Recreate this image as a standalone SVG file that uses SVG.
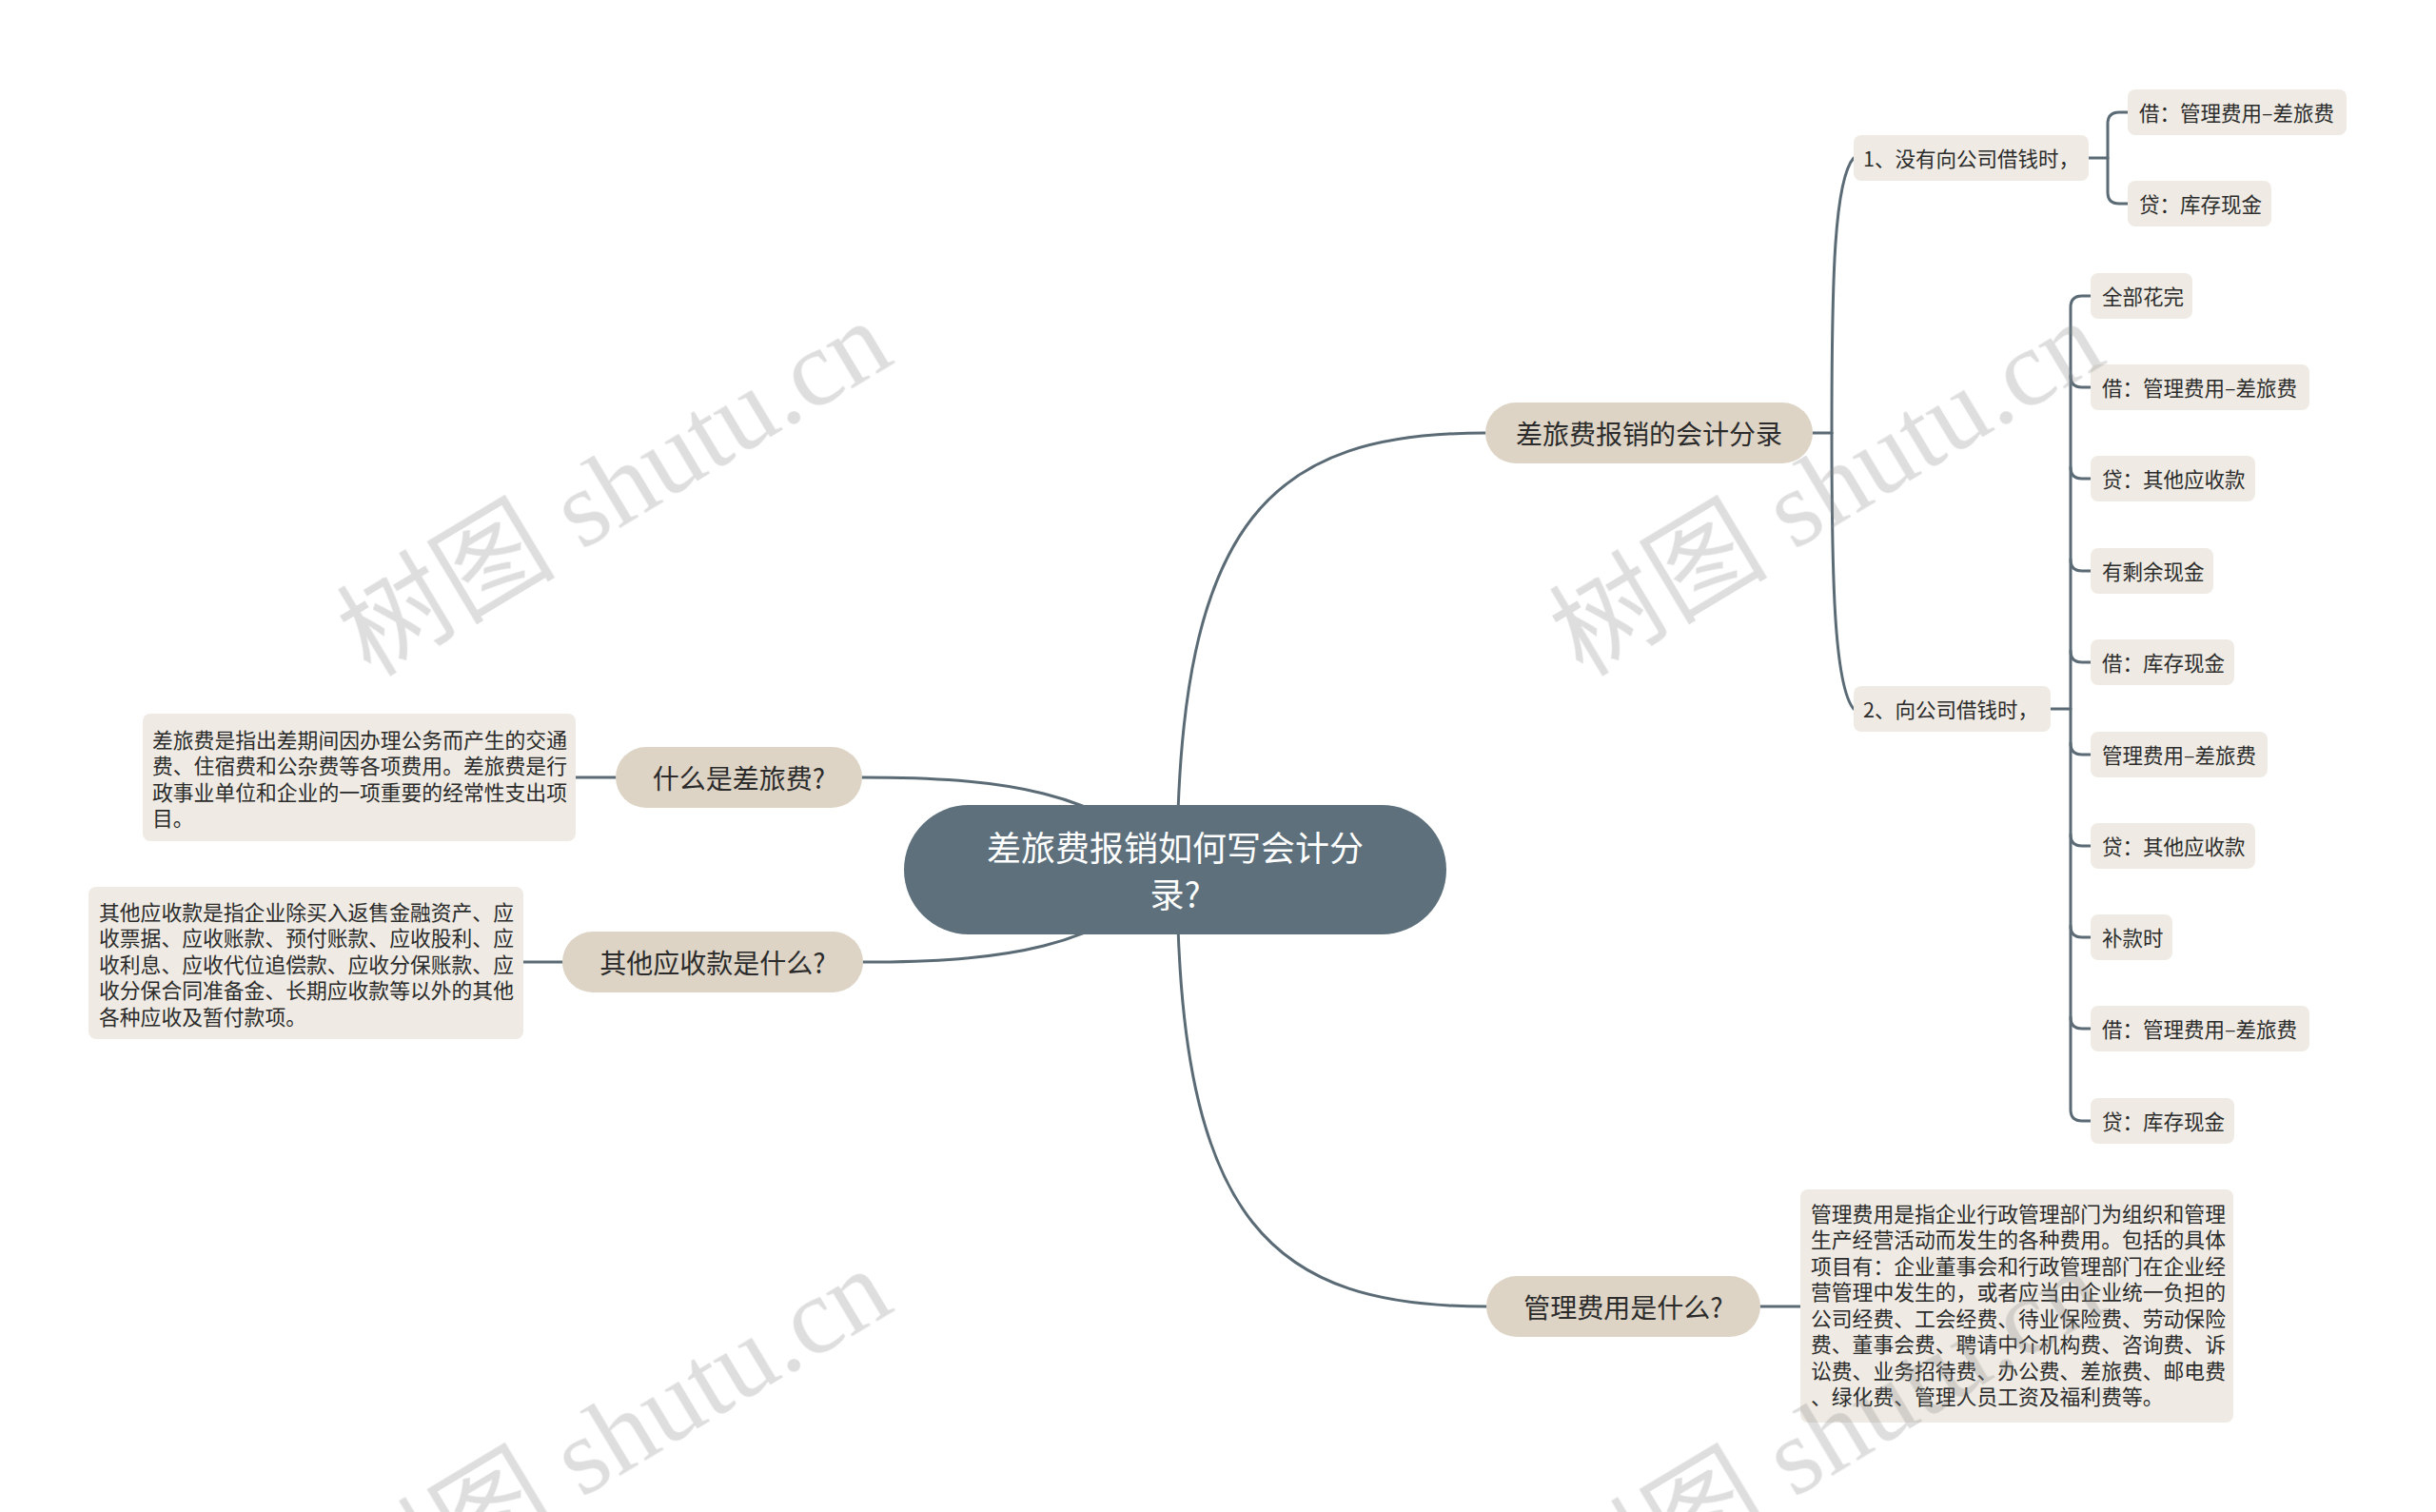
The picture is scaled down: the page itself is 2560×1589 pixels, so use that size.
<svg xmlns="http://www.w3.org/2000/svg" width="2560" height="1589" viewBox="0 0 2560 1589">
<style>
.t{font-family:"Noto Sans CJK SC","Noto Sans",sans-serif;fill:#2b2b2b;dominant-baseline:central}
.root rect{fill:#5d707c}
.root text{fill:#ffffff;font-size:36px;text-anchor:middle}
.l1 rect{fill:#ddd4c6}
.l1 text{font-size:28px;text-anchor:middle}
.lf rect{fill:#efebe4}
.lf text{font-size:21.5px}
.ds rect{fill:#efebe4}
.ds text{font-size:21.8px}
.cn path{fill:none;stroke:#5b6b76;stroke-width:3;stroke-linecap:round}
.wm{font-family:"Liberation Serif","Noto Sans CJK SC",serif;font-size:115px;fill:#8a8a8a;opacity:0.28}
</style>
<rect x="0" y="0" width="2560" height="1589" fill="#ffffff"/>
<g id="connectors" class="cn">
<path d="M1237 914 C1237 540 1340 455 1561 455"/>
<path d="M1237 914 C1237 1290 1340 1373 1562 1373"/>
<path d="M906 817 C1050 817 1160 830 1237 914"/>
<path d="M907 1011 C1050 1011 1160 998 1237 914"/>
<path d="M605 817 H647"/>
<path d="M550 1011 H591"/>
<path d="M1850 1373 H1892"/>
<path d="M1905 455 H1925"/>
<path d="M1925 455 C1925 300 1927 190 1948 166"/>
<path d="M1925 455 C1925 600 1927 720 1948 745"/>
<path d="M2195 166 H2215"/>
<path d="M2236 118 H2227 Q2215 118 2215 130 V202 Q2215 214 2227 214 H2236"/>
<path d="M2155 745 H2176"/>
<path d="M2197 311 H2188 Q2176 311 2176 323 V1166 Q2176 1178 2188 1178 H2197"/>
<path d="M2176 395 Q2176 407 2188 407 H2197"/>
<path d="M2176 491 Q2176 503 2188 503 H2197"/>
<path d="M2176 588 Q2176 600 2188 600 H2197"/>
<path d="M2176 684 Q2176 696 2188 696 H2197"/>
<path d="M2176 781 Q2176 793 2188 793 H2197"/>
<path d="M2176 877 Q2176 889 2188 889 H2197"/>
<path d="M2176 973 Q2176 985 2188 985 H2197"/>
<path d="M2176 1069 Q2176 1081 2188 1081 H2197"/>
</g>
<g id="root" class="root t">
<rect x="950" y="846" width="570" height="136" rx="68"/>
<text x="1235" y="889">差旅费报销如何写会计分</text>
<text x="1235" y="938">录?</text>
</g>
<g id="n-kuaiji" class="l1 t"><rect x="1561" y="423" width="344" height="64" rx="32"/><text x="1733" y="455">差旅费报销的会计分录</text></g>
<g id="n-shenme" class="l1 t"><rect x="647" y="785" width="259" height="64" rx="32"/><text x="776.5" y="817">什么是差旅费?</text></g>
<g id="n-qita" class="l1 t"><rect x="591" y="979" width="316" height="64" rx="32"/><text x="749" y="1011">其他应收款是什么?</text></g>
<g id="n-guanli" class="l1 t"><rect x="1562" y="1341" width="288" height="64" rx="32"/><text x="1706" y="1373">管理费用是什么?</text></g>
<g id="d-chailv" class="ds t"><rect x="150" y="750" width="455" height="134" rx="8"/>
<text x="160" y="776">差旅费是指出差期间因办理公务而产生的交通</text>
<text x="160" y="803.5">费、住宿费和公杂费等各项费用。差旅费是行</text>
<text x="160" y="831">政事业单位和企业的一项重要的经常性支出项</text>
<text x="160" y="858.5">目。</text></g>
<g id="d-qita" class="ds t"><rect x="93" y="932" width="457" height="160" rx="8"/>
<text x="104" y="957">其他应收款是指企业除买入返售金融资产、应</text>
<text x="104" y="984.5">收票据、应收账款、预付账款、应收股利、应</text>
<text x="104" y="1012">收利息、应收代位追偿款、应收分保账款、应</text>
<text x="104" y="1039.5">收分保合同准备金、长期应收款等以外的其他</text>
<text x="104" y="1067">各种应收及暂付款项。</text></g>
<g id="d-guanli" class="ds t"><rect x="1892" y="1250" width="455" height="245" rx="8"/>
<text x="1903" y="1274">管理费用是指企业行政管理部门为组织和管理</text>
<text x="1903" y="1301.5">生产经营活动而发生的各种费用。包括的具体</text>
<text x="1903" y="1329">项目有：企业董事会和行政管理部门在企业经</text>
<text x="1903" y="1356.5">营管理中发生的，或者应当由企业统一负担的</text>
<text x="1903" y="1384">公司经费、工会经费、待业保险费、劳动保险</text>
<text x="1903" y="1411.5">费、董事会费、聘请中介机构费、咨询费、诉</text>
<text x="1903" y="1439">讼费、业务招待费、办公费、差旅费、邮电费</text>
<text x="1903" y="1466.5">、绿化费、管理人员工资及福利费等。</text></g>
<g id="n-1" class="lf t"><rect x="1948" y="142" width="247" height="48" rx="8"/><text x="1958" y="165">1、没有向公司借钱时，</text></g>
<g id="n-1a" class="lf t"><rect x="2236" y="94" width="230" height="48" rx="8"/><text x="2248" y="117">借：管理费用–差旅费</text></g>
<g id="n-1b" class="lf t"><rect x="2236" y="190" width="151" height="48" rx="8"/><text x="2248" y="213">贷：库存现金</text></g>
<g id="n-2" class="lf t"><rect x="1948" y="721" width="207" height="48" rx="8"/><text x="1958" y="744">2、向公司借钱时，</text></g>
<g id="n-2a" class="lf t"><rect x="2197" y="287" width="107" height="48" rx="8"/><text x="2209" y="310">全部花完</text></g>
<g id="n-2b" class="lf t"><rect x="2197" y="383" width="230" height="48" rx="8"/><text x="2209" y="406">借：管理费用–差旅费</text></g>
<g id="n-2c" class="lf t"><rect x="2197" y="479" width="173" height="48" rx="8"/><text x="2209" y="502">贷：其他应收款</text></g>
<g id="n-2d" class="lf t"><rect x="2197" y="576" width="129" height="48" rx="8"/><text x="2209" y="599">有剩余现金</text></g>
<g id="n-2e" class="lf t"><rect x="2197" y="672" width="151" height="48" rx="8"/><text x="2209" y="695">借：库存现金</text></g>
<g id="n-2f" class="lf t"><rect x="2197" y="769" width="186" height="48" rx="8"/><text x="2209" y="792">管理费用–差旅费</text></g>
<g id="n-2g" class="lf t"><rect x="2197" y="865" width="173" height="48" rx="8"/><text x="2209" y="888">贷：其他应收款</text></g>
<g id="n-2h" class="lf t"><rect x="2197" y="961" width="86" height="48" rx="8"/><text x="2209" y="984">补款时</text></g>
<g id="n-2i" class="lf t"><rect x="2197" y="1057" width="230" height="48" rx="8"/><text x="2209" y="1080">借：管理费用–差旅费</text></g>
<g id="n-2j" class="lf t"><rect x="2197" y="1154" width="151" height="48" rx="8"/><text x="2209" y="1177">贷：库存现金</text></g>
<g id="watermark" class="wm">
<text transform="translate(389 712) rotate(-31)">树图 shutu.cn</text>
<text transform="translate(1663 712) rotate(-31)">树图 shutu.cn</text>
<text transform="translate(389 1708) rotate(-31)">树图 shutu.cn</text>
<text transform="translate(1663 1708) rotate(-31)">树图 shutu.cn</text>
</g>
</svg>
